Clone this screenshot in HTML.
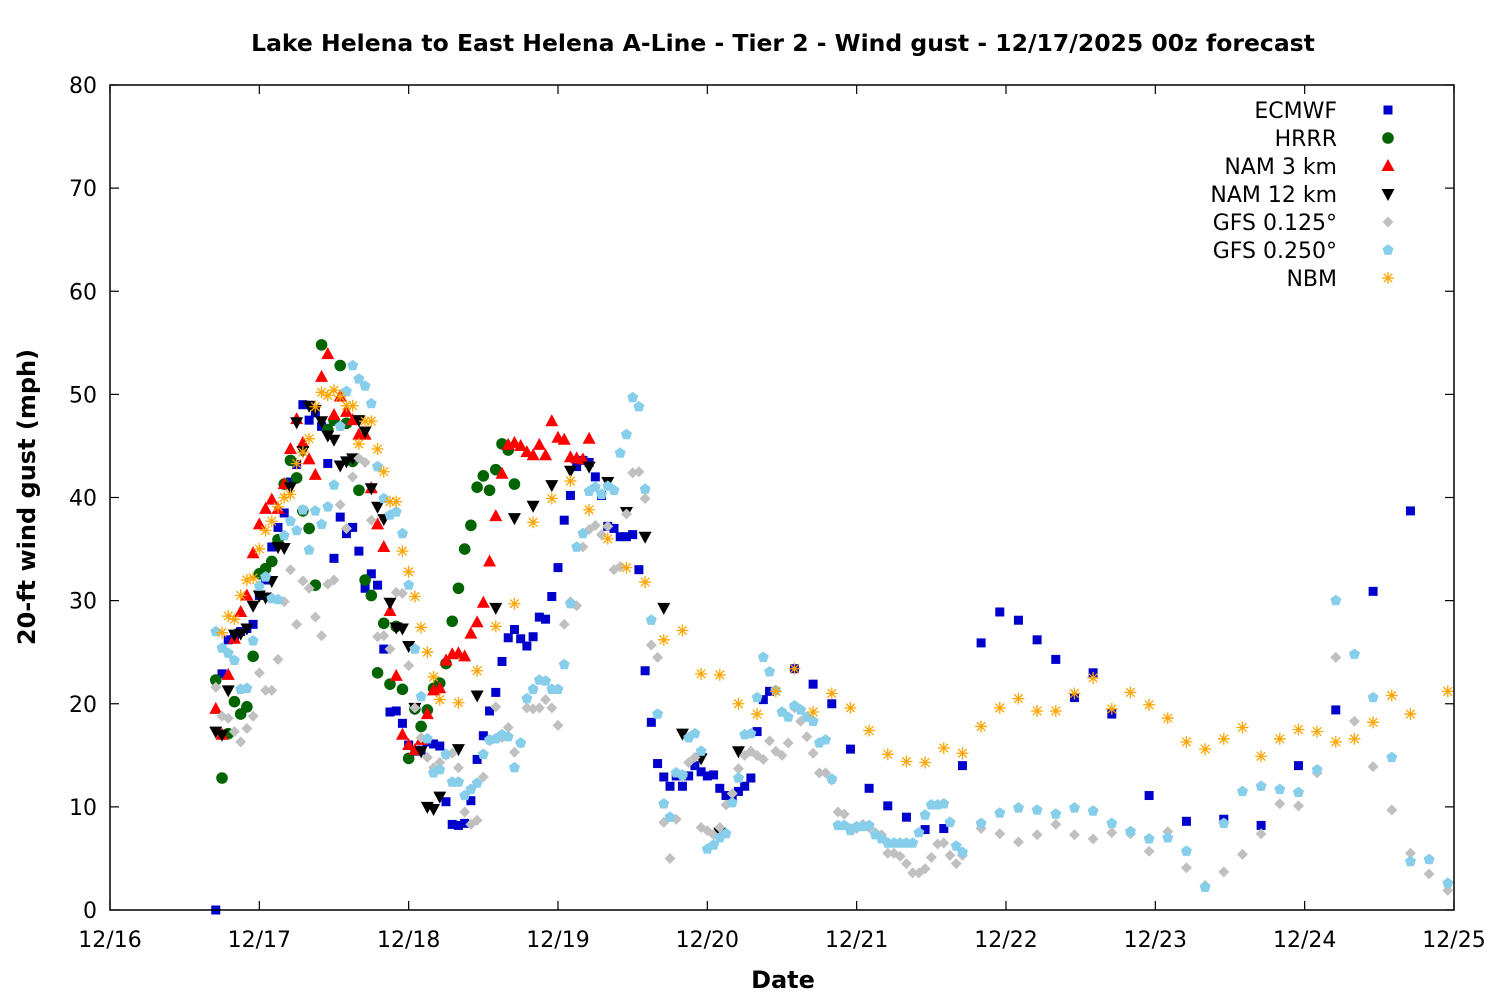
<!DOCTYPE html>
<html><head><meta charset="utf-8"><style>
body{margin:0;background:#fff}
svg text{font-family:"DejaVu Sans","Liberation Sans",sans-serif}
</style></head><body>
<svg id="chart" width="1500" height="1000" viewBox="0 0 1500 1000" xmlns="http://www.w3.org/2000/svg">
<rect width="1500" height="1000" fill="#fff"/>
<text x="783" y="51" text-anchor="middle" font-size="23.5" font-weight="bold">Lake Helena to East Helena A-Line - Tier 2 - Wind gust - 12/17/2025 00z forecast</text>
<text x="783" y="988" text-anchor="middle" font-size="24" font-weight="bold">Date</text>
<text transform="translate(35,497) rotate(-90)" text-anchor="middle" font-size="24" font-weight="bold">20-ft wind gust (mph)</text>
<g id="axes"></g>
<g id="marks"></g>
<g id="legend"></g>
<rect x="110" y="85" width="1344" height="825" fill="none" stroke="#000" stroke-width="1.5"/>
</svg>
<script>
const xTickLabels = ["12/16","12/17","12/18","12/19","12/20","12/21","12/22","12/23","12/24","12/25"];
const yTicks = [0,10,20,30,40,50,60,70,80];
// hours since 12/16 00 local
const ecmwfVals1 = [0,22.9,26.2,26.6,27,27.3,27.7,30.5,32,35.2,37.1,38.5,41.5,43.2,49,47.5,48.2,46.9,43.3,34.1,38.1,36.5,37.1,34.8,31.2,32.6,31.5,25.3,19.2,19.3,18.1,16,15.4,15.5,16.3,16.1,15.9,10.5,8.3,8.2,8.4,10.6,14.6,16.9,19.3,21.1,24.1,26.4,27.2,26.3,25.6,26.5,28.4,28.2,30.4,33.2,37.8,40.2,43,43.6,43.4,42,40.2,37.2,37,36.2,36.2,36.4,33,23.2,18.2,14.2,12.9,12,13,12,13,14,13.4,13,13.1,11.8,11.1,11,11.5,12,12.8,17.3,20.4,21.2];
const ecmwfVals3 = [23.4,21.9,20,15.6,11.8,10.1,9,7.8,7.9,14,25.9,28.9,28.1,26.2,24.3,20.6,23,19];
const ecmwfVals6 = [11.1,8.6,8.8,8.2,14,19.4,30.9,38.7];
const hrrrVals = [22.3,12.8,17.1,20.2,19,19.7,24.6,32.6,33.1,33.8,35.9,41.3,43.6,41.9,38.7,37,31.5,54.8,46.6,47.5,52.8,47.2,43.5,40.7,32,30.5,23,27.8,21.9,27.5,21.4,14.7,19.5,17.8,19.4,21.5,22,23.9,28,31.2,35,37.3,41,42.1,40.7,42.7,45.2,44.6,41.3];
const nam3Vals = [19.5,17,22.8,26.3,28.9,30.5,34.6,37.4,38.9,39.8,38.9,41.3,44.7,47.6,45.3,43.7,42.2,51.7,53.9,48,49.8,48.3,47.5,46.1,46.1,40.9,37.4,35.2,29,22.7,17,16,15.5,16.5,19,21.3,21.5,24.2,24.8,24.9,24.6,26.8,27.9,29.8,33.8,38.2,42.3,45.1,45.3,45,44.4,44.1,45.1,44.1,47.4,45.8,45.6,43.9,43.8,43.7,45.7];
const nam12Vals1 = [17.3,17,21.3,26.7,26.8,27.3,29.5,30.5,30.3,31.9,35.2,35.1,41,47.3,44.5,48.9,48.5,47.4,46,45.6,43.1,43.5,43.8,47.5,46.4,40.9,39.1,37.9,29.8,27.4,27.3,25.6,19.6,15.4,10,9.8,11];
const nam12Vals3 = [15.6,20.8,29.3,38,39.2,41.2,42.6,43,41.5,38.6,36.2,29.3,17.1,14.7,7.5,15.4];
const gfs125Vals1 = [21.6,18.8,18.6,17.3,16.3,17.6,18.8,23,21.3,21.3,24.3,29.9,33,27.7,31.9,31.2,28.4,26.6,31.6,32,39.3,37,42,43.8,43.4,37.8,26.5,26.6,25.3,30.8,30.7,23.7,19.6,16.7,14.8,13.8,14.3,15,15.2,13.8,9.5,8.3,8.7,12.9,16.4,19.7,16.7,17.7,15.3,16.2,19.6,19.5,19.6,20.4,19.6,17.9,27.7,29.9,29.5,35.2,36.9,37.3,36.4,37.2,33,33.3,38.4,42.4,42.5,39.9,25.7,24.5,8.5,5,8.8,13,14.3,14.8,8,7.7,7.3,8,10.2,11.3,13.7,15,15.4,15,14.6,16.4,15.4,15,16.2,19.6,18.3,16.8,15.2,13.3,13.3,12.6,9.5,9.3,7.9,7.9,8.3,8,7.5,7.3,5.5,5.5,5.2,4.5,3.6,3.6,4,5.1,6.4,6.5,5.3,4.5,5.3];
const gfs125Vals3 = [7.9,7.4,6.6,7.3,8.3,7.3,6.9,7.5,7.4,5.7,7.6,4.1,2.4,3.7,5.4,7.4,10.3,10.1,13.3,24.5,18.3,13.9,9.7,5.5,3.5,1.9];
const gfs250Vals1 = [27,25.4,24.9,24.2,21.4,21.5,26.1,31.4,32.3,30.2,30.1,36.3,37.7,36.8,38.8,34.9,38.7,37.4,39.1,41.2,46.9,50.3,52.8,51.5,50.8,49.1,43,39.9,38.3,38.6,36.5,31.5,25.3,20.7,16.6,13.3,13.6,15.1,12.4,12.4,11.1,11.7,12.3,15.1,16.5,16.6,17,16.8,13.8,16.2,20.5,21.4,22.3,22.2,21.4,21.4,23.8,29.7,35.2,36.5,40.6,41,40.3,41.1,40.7,44.3,46.1,49.7,48.8,40.8,28.1,19,10.3,9,13.3,13.1,16.7,17.1,15.4,5.9,6.3,7,7.4,10.4,12.8,17,17.1,20.6,24.5,23.1,21.3,19.2,18.7,19.8,19.4,18.7,18.3,16.2,16.5,12.7,8.2,8.2,7.7,8.1,8.1,8.2,7.3,6.9,6.5,6.5,6.5,6.5,6.5,7.5,9.2,10.2,10.2,10.3,8.5,6.2,5.6];
const gfs250Vals3 = [8.4,9.4,9.9,9.7,9.3,9.9,9.6,8.4,7.6,6.9,7,5.7,2.2,8.4,11.5,12,11.7,11.4,13.6,30,24.8,20.6,14.8,4.7,4.9,2.6];
const nbmVals1 = [26.9,28.5,28.2,30.5,32,32.2,35,36.8,37.7,39.1,40,40.3,43.3,44.4,45.7,48.8,50.2,49.9,50.4,49.8,48.9,48.9,45.2,47.4,47.4,44.7,42.5,39.6,39.6,34.8,32.8,30.4,27.4,25,22.6,20.4];
const nbmVals3 = [20.1,23.2,27.5,29.7,37.6,39.9,41.6,38.8,36,33.2,31.8,26.2,27.1,22.9,22.8,20,19,21.2,23.4,19.2,21,19.6,17.4,15.1,14.4,14.3,15.7,15.2,17.8,19.6,20.5,19.3,19.3,21,22.5,19.5,21.1,19.9,18.6,16.3,15.6,16.6,17.7,14.9,16.6,17.5,17.3,16.3,16.6,18.2,20.8,19,21.2];
const nbmHours3Extra = [215];

function hrs(start, step, n){const a=[];for(let i=0;i<n;i++)a.push(start+i*step);return a;}
const series = [
 {name:"ECMWF", shape:"square", color:"#0000cc",
  hours: hrs(17,1,ecmwfVals1.length).concat(hrs(110,3,ecmwfVals3.length), hrs(167,6,ecmwfVals6.length)),
  vals: ecmwfVals1.concat(ecmwfVals3, ecmwfVals6)},
 {name:"HRRR", shape:"circle", color:"#006400", hours: hrs(17,1,hrrrVals.length), vals: hrrrVals},
 {name:"NAM 3 km", shape:"tri", color:"#ff0000", hours: hrs(17,1,nam3Vals.length), vals: nam3Vals},
 {name:"NAM 12 km", shape:"dtri", color:"#000000",
  hours: hrs(17,1,nam12Vals1.length).concat(hrs(56,3,nam12Vals3.length)), vals: nam12Vals1.concat(nam12Vals3)},
 {name:"GFS 0.125°", shape:"diamond", color:"#c0c0c0",
  hours: hrs(17,1,gfs125Vals1.length).concat(hrs(140,3,gfs125Vals3.length)), vals: gfs125Vals1.concat(gfs125Vals3)},
 {name:"GFS 0.250°", shape:"pent", color:"#87ceeb",
  hours: hrs(17,1,gfs250Vals1.length).concat(hrs(140,3,gfs250Vals3.length)), vals: gfs250Vals1.concat(gfs250Vals3)},
 {name:"NBM", shape:"star", color:"#ffa500",
  hours: hrs(18,1,nbmVals1.length).concat(hrs(56,3,nbmVals3.length-1), nbmHours3Extra), vals: nbmVals1.concat(nbmVals3)}
];
const X0=110,X1=1454,Y0=910,Y1=85;
const xScale=h=>X0+(h/216)*(X1-X0);
const yScale=v=>Y0-(v/80)*(Y0-Y1);
const NS="http://www.w3.org/2000/svg";
function mk(tag,attrs,parent){const e=document.createElementNS(NS,tag);for(const k in attrs)e.setAttribute(k,attrs[k]);parent.appendChild(e);return e;}
const axes=document.getElementById('axes');
yTicks.forEach(v=>{
  const y=yScale(v);
  const t=mk('line',{x1:X0,x2:X0+9,y1:y,y2:y,stroke:'#000','stroke-width':1.2},axes);
  
  
  const t2=mk('line',{x1:X1-9,x2:X1,y1:y,y2:y,stroke:'#000','stroke-width':1.2},axes);
  
  
  const l=mk('text',{x:X0-13,y:y+8,'text-anchor':'end','font-size':22},axes);
  l.textContent=v;
  
  
});
xTickLabels.forEach((s,i)=>{
  const x=xScale(i*24);
  const t=mk('line',{x1:x,x2:x,y1:Y0,y2:Y0-9,stroke:'#000','stroke-width':1.2},axes);
  
  
  const t2=mk('line',{x1:x,x2:x,y1:Y1,y2:Y1+9,stroke:'#000','stroke-width':1.2},axes);
  
  
  const l=mk('text',{x:x,y:947,'text-anchor':'middle','font-size':22},axes);
  l.textContent=s;
  
  
});
function marker(shape,color,x,y,parent){
  let e;
  if(shape==='square') e=mk('rect',{x:x-4.5,y:y-4.5,width:9,height:9,fill:color},parent);
  else if(shape==='circle') e=mk('circle',{cx:x,cy:y,r:5.8,fill:color},parent);
  else if(shape==='tri') e=mk('polygon',{points:`${x},${y-7} ${x-6.5},${y+5} ${x+6.5},${y+5}`,fill:color},parent);
  else if(shape==='dtri') e=mk('polygon',{points:`${x},${y+7} ${x-6.5},${y-5} ${x+6.5},${y-5}`,fill:color},parent);
  else if(shape==='diamond') e=mk('polygon',{points:`${x},${y-5.5} ${x+5.5},${y} ${x},${y+5.5} ${x-5.5},${y}`,fill:color},parent);
  else if(shape==='pent'){let p=[];for(let k=0;k<5;k++){const a=-Math.PI/2+k*2*Math.PI/5;p.push((x+5.8*Math.cos(a)).toFixed(1)+','+(y+5.8*Math.sin(a)).toFixed(1));}e=mk('polygon',{points:p.join(' '),fill:color},parent);}
  else {let d='';for(let k=0;k<4;k++){const a=k*Math.PI/4;const dx=6*Math.cos(a),dy=6*Math.sin(a);d+=`M${x-dx},${y-dy}L${x+dx},${y+dy}`;}e=mk('path',{d:d,stroke:color,'stroke-width':1.3,fill:'none'},parent);}
  return e;
}
const marks=document.getElementById('marks');
const legend=document.getElementById('legend');
series.forEach((s,si)=>{
  const g=mk('g',{},marks);
  
  
  s.vals.forEach((v,i)=>{
    const m=marker(s.shape,s.color,xScale(s.hours[i]),yScale(v),g);
    
    
  });
  const ly=110+28*si;
  const lt=mk('text',{x:1337,y:ly+8,'text-anchor':'end','font-size':22},legend);
  lt.textContent=s.name;
  
  
  const lm=marker(s.shape,s.color,1388,ly,legend);
  
  
});
</script>
</body></html>
